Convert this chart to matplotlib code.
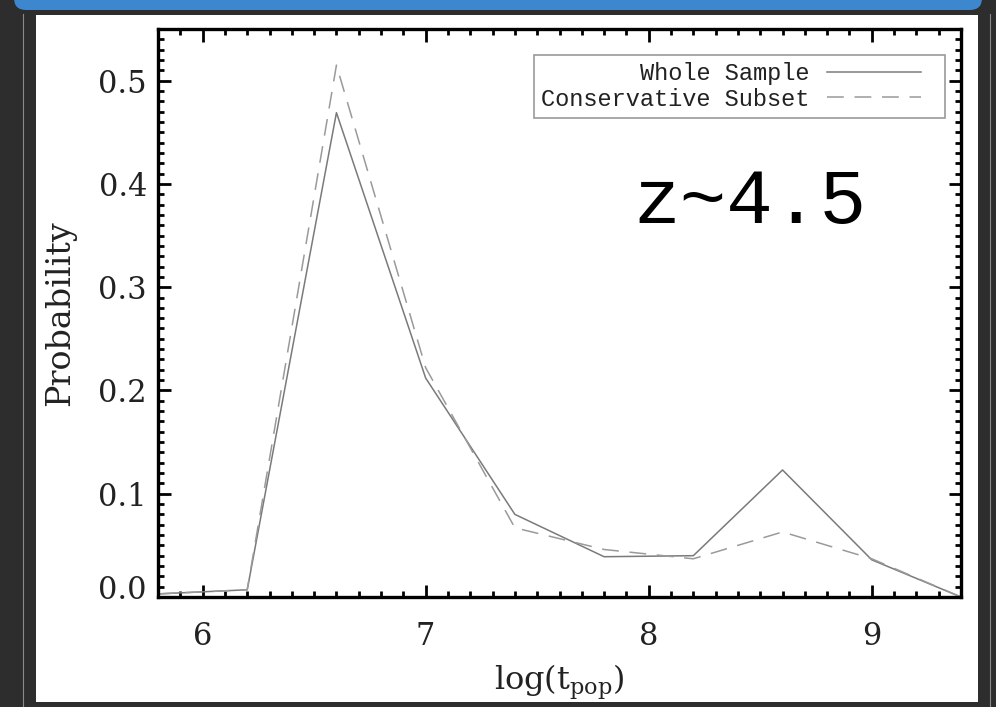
import numpy as np
import matplotlib
matplotlib.use('Agg')
import matplotlib.pyplot as plt
import matplotlib.transforms as mtransforms
from matplotlib.patches import Rectangle, FancyBboxPatch
from matplotlib.lines import Line2D
from matplotlib.legend_handler import HandlerLine2D
from matplotlib.ticker import MultipleLocator, FormatStrFormatter

# binned log ages and the probability in each bin
log_t = [5.8, 6.2, 6.6, 7.0, 7.4, 7.8, 8.2, 8.6, 9.0, 9.4]
whole_sample = [0.003, 0.007, 0.469, 0.212, 0.080, 0.039, 0.040, 0.123, 0.036, 0.0]
conservative = [0.003, 0.007, 0.515, 0.222, 0.067, 0.046, 0.037, 0.063, 0.037, 0.0]
legend_labels = ['Whole Sample', 'Conservative Subset']
redshift_label = 'z~4.5'

W, H = 996, 707
serif = 'DejaVu Serif'
mono = 'Liberation Mono'
plt.rcParams['mathtext.fontset'] = 'custom'
plt.rcParams['mathtext.rm'] = serif


class ShortLine(HandlerLine2D):
    # legend line that stops short of the handle box, leaving room before the frame
    def get_xdata(self, legend, xdescent, ydescent, width, height, fontsize):
        gap = 12.0
        xd = np.array([-xdescent, -xdescent + width - gap])
        return xd, xd


fig = plt.figure(figsize=(W / 100, H / 100), dpi=100, facecolor='#2d2d2d')
pix = mtransforms.IdentityTransform()

# slide decoration: blue header strip, thin edge rules, white card (behind the axes)
fig.add_artist(FancyBboxPatch((14, H - 10), 968, 40, boxstyle='round,pad=0,rounding_size=12',
                              facecolor='#3c87cd', edgecolor='none', transform=pix, zorder=-2))
for xr in (23, 990):
    fig.add_artist(Line2D([xr, xr], [0, H - 14], color='#8a8a8a', lw=0.8, transform=pix, zorder=-2))
fig.add_artist(Rectangle((36, H - 702), 942, 687, facecolor='white', edgecolor='none',
                         transform=pix, zorder=-1))

ax = fig.add_axes([158 / W, 1 - 597 / H, 803 / W, 568 / H])
ax.plot(log_t, whole_sample, color='#7a7a7a', lw=1.1, label=legend_labels[0])
ax.plot(log_t, conservative, color='#9a9a9a', lw=1.1, dashes=(11, 7), label=legend_labels[1])

ax.set_xlim(5.8, 9.4)
ax.set_ylim(0, 0.55)
ax.xaxis.set_major_locator(MultipleLocator(1))
ax.xaxis.set_minor_locator(MultipleLocator(0.1))
ax.yaxis.set_major_locator(MultipleLocator(0.1))
ax.yaxis.set_minor_locator(MultipleLocator(0.01))
ax.yaxis.set_major_formatter(FormatStrFormatter('%.1f'))
ax.xaxis.set_major_formatter(FormatStrFormatter('%d'))
ax.tick_params(which='both', direction='in', top=True, right=True, width=2.0, color='black')
ax.tick_params(which='major', length=9)
ax.tick_params(which='minor', length=4.5)
ax.tick_params(axis='y', pad=8)
ax.tick_params(axis='x', pad=17)
ax.tick_params(labelsize=22, labelcolor='#222222')
for sp in ax.spines.values():
    sp.set_linewidth(2.4)

ax.set_ylabel('Probability', fontfamily=serif, fontsize=24, color='#222222', labelpad=16)
ax.set_xlabel(r'$\mathregular{log(t_{pop})}$', fontfamily=serif, fontsize=23,
              color='#222222', labelpad=8)

ax.text(0.737, 0.694, redshift_label, transform=ax.transAxes, fontfamily=mono,
        fontsize=56, ha='center', va='center', color='black')

leg = ax.legend(loc='upper right', bbox_to_anchor=(0.98, 0.954), borderaxespad=0,
                markerfirst=False, handlelength=4.7, handletextpad=0.75, labelspacing=0.1,
                borderpad=0.3, fancybox=False, framealpha=1,
                handler_map={Line2D: ShortLine()},
                prop={'family': mono, 'size': 17})
leg.get_frame().set_edgecolor('#9a9a9a')
leg.get_frame().set_linewidth(1.2)
for t in leg.get_texts():
    t.set_color('#222222')

# tick label fonts, and lift the zero label clear of the corner
fig.canvas.draw()
shift = mtransforms.ScaledTranslation(0, 10 / 100, fig.dpi_scale_trans)
for tick, loc in zip(ax.yaxis.get_major_ticks(), ax.yaxis.get_majorticklocs()):
    tick.label1.set_fontfamily(serif)
    if abs(loc) < 1e-9:
        tick.label1.set_transform(tick.label1.get_transform() + shift)
for tick in ax.xaxis.get_major_ticks():
    tick.label1.set_fontfamily(serif)

fig.savefig('out.png', dpi=100, facecolor=fig.get_facecolor())
